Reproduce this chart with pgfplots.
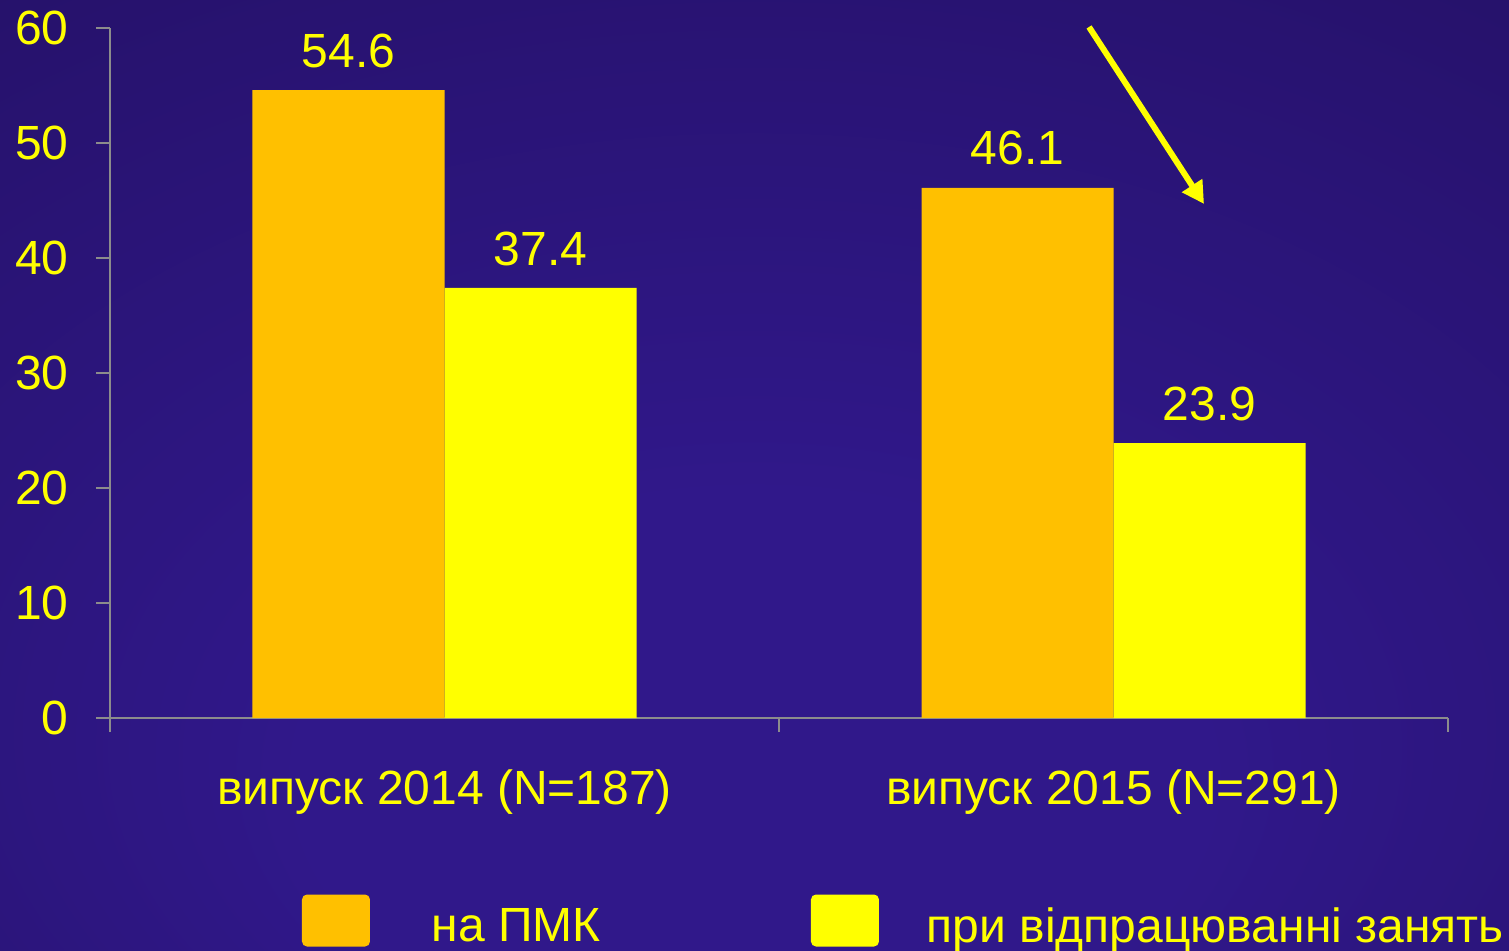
\documentclass[border=0pt]{standalone}
\usepackage{pgfplots}
\pgfplotsset{compat=1.18}
\usepackage{fontspec}
\setmainfont{Liberation Sans}
\usetikzlibrary{arrows.meta}
\definecolor{bgin}{HTML}{30188A}
\definecolor{bgout}{HTML}{1A0A46}
\definecolor{barorange}{HTML}{FFC000}
\definecolor{baryellow}{HTML}{FFFF00}
\definecolor{axgray}{HTML}{8C8C8C}
\pgfdeclareradialshading{bgshade}{\pgfpoint{0bp}{-20bp}}{color(0bp)=(bgin); color(15bp)=(bgin); color(75bp)=(bgout)}
\newcommand{\bigfont}{\fontsize{24bp}{29bp}\selectfont}
\begin{document}
\begin{tikzpicture}
\shade[shading=bgshade] (0,0) rectangle (754.5bp,475.5bp);
\begin{axis}[
  at={(55bp,116.5bp)}, anchor=south west,
  scale only axis, width=669bp, height=345bp,
  xmin=-0.5, xmax=1.5, ymin=0, ymax=60,
  clip=false,
  axis x line*=bottom, axis y line*=left,
  axis line style={axgray, line width=1bp},
  ytick={0,10,...,60},
  xtick={0,1},
  xticklabels={випуск 2014 (N=187), випуск 2015 (N=291)},
  major tick length=7bp, tick align=outside,
  tick style={axgray, line width=1bp},
  xtick style={draw=none},
  extra x ticks={-0.5,0.5,1.5},
  extra x tick labels={},
  extra x tick style={xtick style={draw=axgray, line width=1bp}, grid=none},
  /pgf/number format/assume math mode=true,
  tick label style={font=\bigfont, text=baryellow},
  yticklabel style={anchor=east, inner sep=0pt, xshift=-13.5bp},
  xticklabel style={anchor=base, inner sep=0pt, yshift=-36bp},
  ybar,
  bar width=0.287,
  legend image code/.code={\fill[rounded corners=2.5bp,#1] (0bp,-10bp) rectangle (34bp,16bp);},
  legend columns=2,
  legend style={at={(0.1435,-0.2935)}, anchor=west, draw=none, fill=none,
    inner sep=0pt, outer sep=0pt, font=\bigfont, text=baryellow,
    nodes={inner sep=0pt},
    /tikz/column 1/.style={column sep=31bp},
    /tikz/column 2/.style={column sep=105bp},
    /tikz/column 3/.style={column sep=24bp}},
  nodes near coords={\pgfmathprintnumber[fixed,fixed zerofill,precision=1,assume math mode=true]{\pgfplotspointmeta}},
  nodes near coords style={font=\bigfont, text=baryellow, inner sep=0pt, anchor=south, yshift=11bp},
]
\addplot[fill=barorange, draw=none, bar shift=-0.1435] coordinates {(0,54.6) (1,46.1)};
\addlegendentry{на ПМК}
\addplot[fill=baryellow, draw=none, bar shift=0.1435] coordinates {(0,37.4) (1,23.9)};
\addlegendentry{при відпрацюванні занять}
\draw[baryellow, line width=3bp, -{Triangle[length=11bp, width=11.5bp]}] (axis cs:0.9634,60.09) -- (axis cs:1.1353,44.7);
\end{axis}
\pgfresetboundingbox
\useasboundingbox (0,0) rectangle (754.5bp,475.5bp);
\end{tikzpicture}
\end{document}
